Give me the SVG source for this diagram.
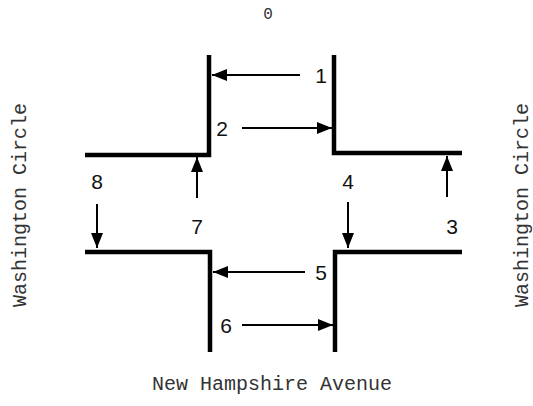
<svg xmlns="http://www.w3.org/2000/svg" width="533" height="406" viewBox="0 0 533 406">
<defs>
<marker id="ah" markerWidth="15" markerHeight="12" refX="15" refY="6" orient="auto" markerUnits="userSpaceOnUse">
<path d="M0,0 L15,6 L0,12 z" fill="#000"/>
</marker>
<style>
.wall{fill:none;stroke:#000;stroke-width:4.5;stroke-linejoin:miter;stroke-linecap:butt}
.arr{stroke:#000;stroke-width:2;fill:none;marker-end:url(#ah)}
.num{font-family:"Liberation Sans",Arial,sans-serif;font-size:21px;fill:#111;text-anchor:middle}
.lbl{font-family:"Liberation Mono","Courier New",monospace;font-size:20px;fill:#333;text-anchor:middle}
</style>
</defs>
<rect width="533" height="406" fill="#fff"/>
<g id="walls">
<path class="wall" d="M209,55 V155 H85"/>
<path class="wall" d="M334,55 V153 H462"/>
<path class="wall" d="M85,252 H210 V352"/>
<path class="wall" d="M335,352 V252 H462"/>
</g>
<g id="connectors">
<line class="arr" x1="300" y1="75" x2="212" y2="75"/>
<line class="arr" x1="242" y1="128" x2="332" y2="128"/>
<line class="arr" x1="447" y1="197" x2="447" y2="156"/>
<line class="arr" x1="348" y1="202" x2="348" y2="248"/>
<line class="arr" x1="305" y1="272" x2="213" y2="272"/>
<line class="arr" x1="242" y1="325" x2="333" y2="325"/>
<line class="arr" x1="197" y1="198" x2="197" y2="157"/>
<line class="arr" x1="97" y1="204" x2="97" y2="248"/>
</g>
<g id="n1"><text class="num" x="321" y="83">1</text></g>
<g id="n2"><text class="num" x="222" y="136">2</text></g>
<g id="n3"><text class="num" x="452" y="234">3</text></g>
<g id="n4"><text class="num" x="348" y="189">4</text></g>
<g id="n5"><text class="num" x="321" y="280">5</text></g>
<g id="n6"><text class="num" x="226" y="333">6</text></g>
<g id="n7"><text class="num" x="197" y="234">7</text></g>
<g id="n8"><text class="num" x="97" y="189">8</text></g>
<g id="n0"><text class="lbl" x="268" y="19" style="font-size:16px">0</text></g>
<g id="wc-left"><text class="lbl" transform="translate(26,205) rotate(-90)">Washington Circle</text></g>
<g id="wc-right"><text class="lbl" transform="translate(528,205) rotate(-90)">Washington Circle</text></g>
<g id="nha"><text class="lbl" x="272" y="390">New Hampshire Avenue</text></g>
</svg>
